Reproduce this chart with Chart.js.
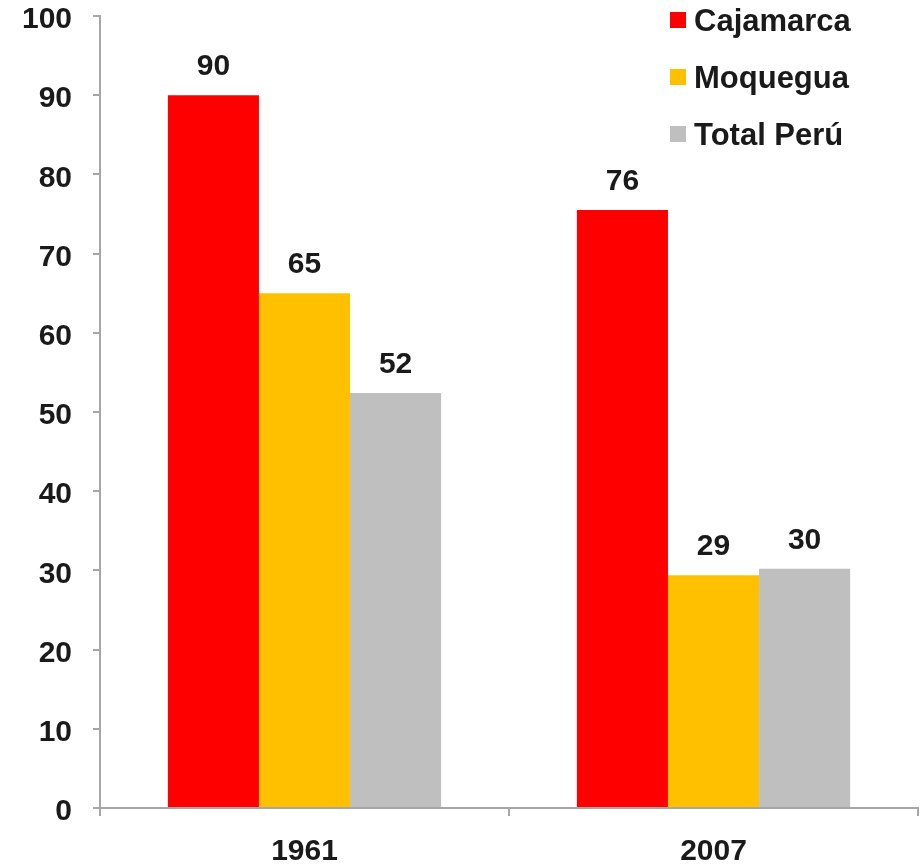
<!DOCTYPE html>
<html>
<head>
<meta charset="utf-8">
<script src="https://cdn.jsdelivr.net/npm/chart.js@4"></script>
<style>
  body { margin: 0; background: #fff; overflow: hidden; }
  #wrap { width: 923px; height: 875px; position: absolute; left: 0; top: -11px; }
</style>
</head>
<body>
<div id="wrap"><canvas id="myChart"></canvas></div>
<script>
var years = ['1961', '2007'];
var seriesNames = ['Cajamarca', 'Moquegua', 'Total Perú'];
var cajamarca = [90, 75.5];
var moquegua = [65, 29.4];
var totalPeru = [52.4, 30.2];
var colors = ['#ff0000', '#ffc000', '#bfbfbf'];
var yTicks = [0, 10, 20, 30, 40, 50, 60, 70, 80, 90, 100];

var FONT = '"Liberation Sans", Arial, sans-serif';
var axisGray = '#a6a6a6';
var SHIFT = 11; // canvas is moved up by this much

// value labels on top of each bar
var barLabels = {
    id: 'barLabels',
    afterDatasetsDraw: function (chart) {
        var c = chart.ctx;
        c.save();
        c.font = 'bold 30px ' + FONT;
        c.fillStyle = '#1a1a1a';
        c.textAlign = 'center';
        c.textBaseline = 'alphabetic';
        chart.data.datasets.forEach(function (ds, i) {
            chart.getDatasetMeta(i).data.forEach(function (bar, j) {
                c.fillText(Math.round(ds.data[j]), bar.x, bar.y - 20);
            });
        });
        c.restore();
    }
};

// legend in the top right corner
var cornerLegend = {
    id: 'cornerLegend',
    afterDraw: function (chart) {
        var c = chart.ctx;
        c.save();
        c.font = 'bold 31px ' + FONT;
        c.textBaseline = 'middle';
        chart.data.datasets.forEach(function (ds, i) {
            var y = SHIFT + 20 + i * 57;
            c.fillStyle = ds.backgroundColor;
            c.fillRect(670, y - 8, 16, 16);
            c.fillStyle = '#1a1a1a';
            c.fillText(ds.label, 694, y + 2);
        });
        c.restore();
    }
};

var ctx = document.getElementById('myChart').getContext('2d');
var myChart = new Chart(ctx, {
    type: 'bar',
    data: {
        labels: years,
        datasets: [
            { label: seriesNames[0], data: cajamarca, backgroundColor: colors[0] },
            { label: seriesNames[1], data: moquegua, backgroundColor: colors[1] },
            { label: seriesNames[2], data: totalPeru, backgroundColor: colors[2] }
        ]
    },
    options: {
        responsive: true,
        maintainAspectRatio: false,
        animation: false,
        layout: { padding: { left: 0, right: 5, top: 8, bottom: 0 } },
        datasets: {
            bar: { categoryPercentage: 0.668, barPercentage: 1.0 }
        },
        plugins: {
            legend: { display: false },
            tooltip: { enabled: false }
        },
        scales: {
            x: {
                offset: true,
                border: { color: axisGray, width: 2 },
                grid: {
                    offset: true,
                    drawOnChartArea: false,
                    drawTicks: true,
                    tickLength: 8,
                    color: axisGray,
                    lineWidth: 2
                },
                ticks: {
                    color: '#1a1a1a',
                    padding: 18,
                    font: { family: FONT, size: 30, weight: 'bold' }
                },
                afterFit: function (scale) { scale.height = 56; }
            },
            y: {
                min: 0,
                max: 100,
                afterBuildTicks: function (scale) {
                    scale.ticks = yTicks.map(function (v) { return { value: v }; });
                },
                border: { color: axisGray, width: 2 },
                grid: {
                    drawOnChartArea: false,
                    drawTicks: true,
                    tickLength: 7,
                    color: axisGray,
                    lineWidth: 2
                },
                ticks: {
                    color: '#1a1a1a',
                    padding: 21,
                    labelOffset: 4,
                    font: { family: FONT, size: 30, weight: 'bold', lineHeight: 0.4 }
                },
                afterFit: function (scale) { scale.width = 100; }
            }
        }
    },
    plugins: [barLabels, cornerLegend]
});
</script>
</body>
</html>
